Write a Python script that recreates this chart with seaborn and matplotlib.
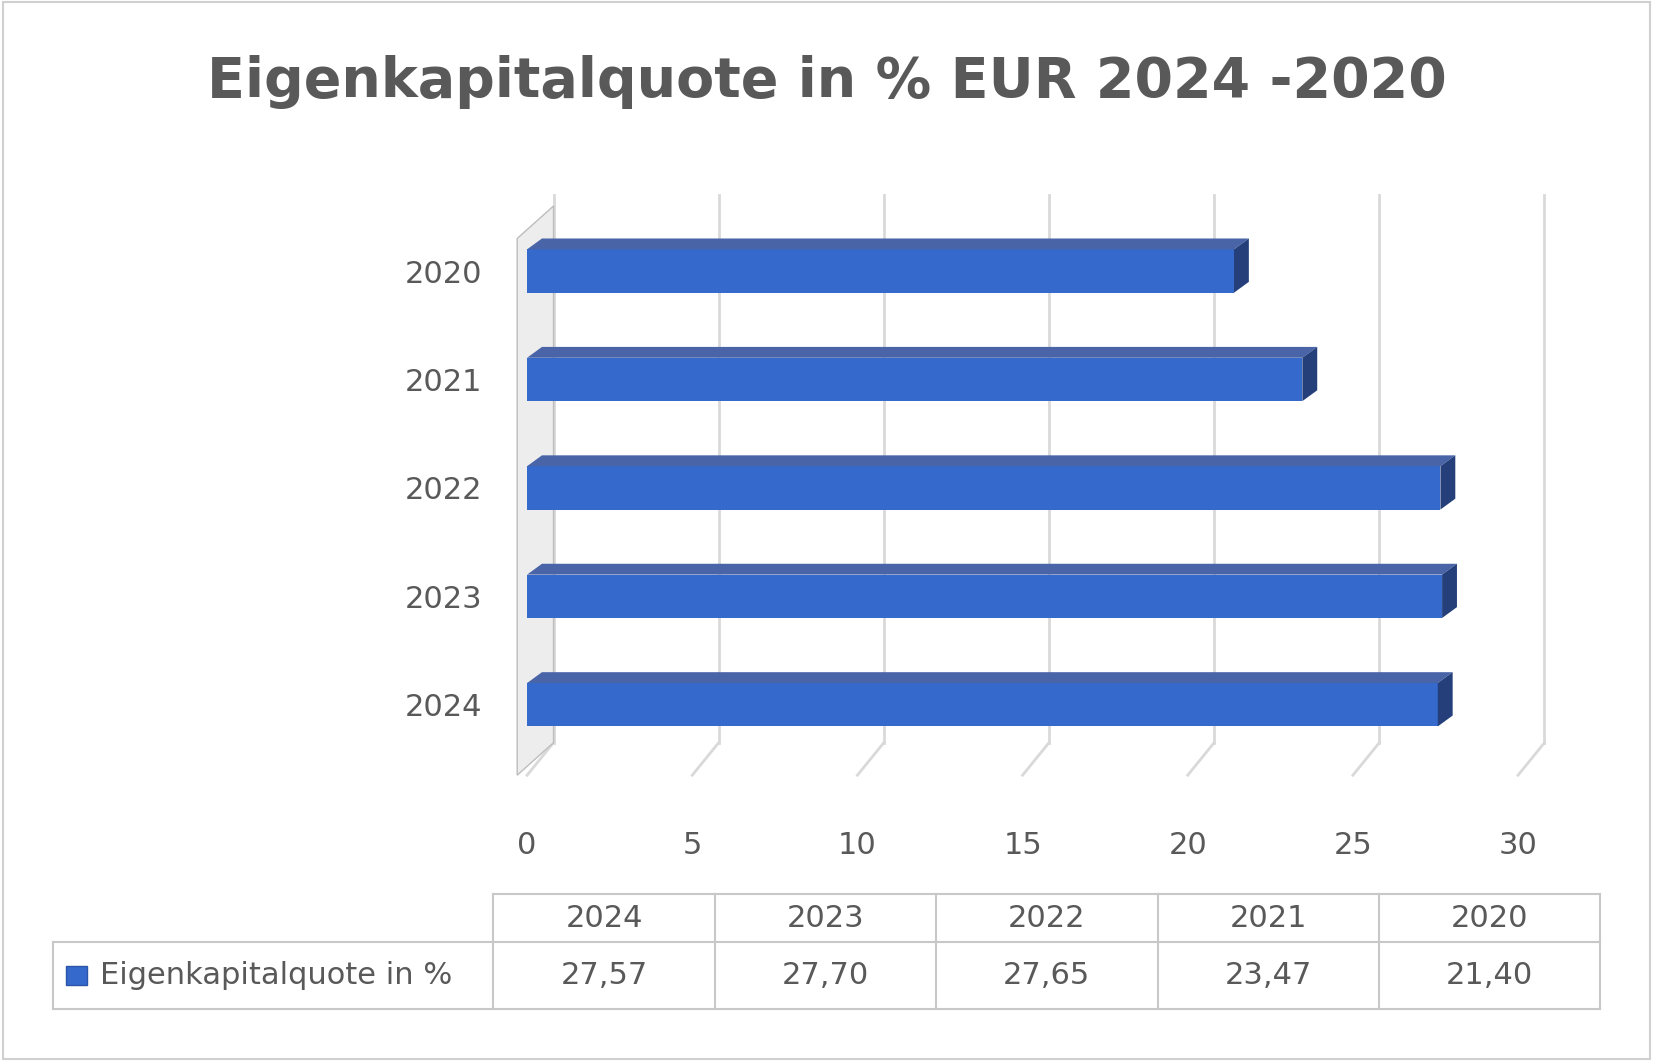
import matplotlib
matplotlib.use("Agg")
import matplotlib.pyplot as plt
import seaborn as sns
import pandas as pd
from matplotlib.patches import Polygon, Rectangle

years = ["2020", "2021", "2022", "2023", "2024"]
values = [21.40, 23.47, 27.65, 27.70, 27.57]
table_years = ["2024", "2023", "2022", "2021", "2020"]
table_values = ["27,57", "27,70", "27,65", "23,47", "21,40"]
series_name = "Eigenkapitalquote in %"
title = "Eigenkapitalquote in % EUR 2024 -2020"

W, H = 1568, 1006
fx = lambda x: x / W
fy = lambda y: 1 - y / H
gray = "#595959"
grid = "#d9d9d9"

fig = plt.figure(figsize=(16.53, 10.61), dpi=100)
fig.patches.append(Rectangle((0.002, 0.002), 0.996, 0.996, transform=fig.transFigure,
                             fill=False, ec="#d0d0d0", lw=1.5))

fig.text(0.5, fy(78), title, ha="center", va="center", fontsize=40, fontweight="bold",
         color=gray, family="DejaVu Sans")

ax = fig.add_axes([fx(500), fy(735), fx(1440) - fx(500), fy(185) - fy(735)])
df = pd.DataFrame({"year": years, "value": values})
sns.barplot(data=df, x="value", y="year", orient="h", color="#3569cc", saturation=1,
            width=0.40, ax=ax, zorder=3, edgecolor="none")
ax.set_xlim(0, 30)
ax.set_ylim(4.65, -0.7)
ax.set_xticks(range(0, 31, 5))
ax.set_xlabel("")
ax.set_ylabel("")
for s in ax.spines.values():
    s.set_visible(False)
ax.tick_params(length=0, labelsize=22, labelcolor=gray)
ax.tick_params(axis="y", pad=32)
ax.tick_params(axis="x", pad=40)

# pseudo-3D grid: back lines plus diagonal floor segments
dx, dy = 0.8, -0.3
for t in range(0, 31, 5):
    ax.plot([t + dx, t + dx], [4.65 + dy, -0.7], color=grid, lw=2, zorder=1, clip_on=False)
    ax.plot([t, t + dx], [4.65, 4.65 + dy], color=grid, lw=2, zorder=1, clip_on=False)
# wall at 0
ax.add_patch(Polygon([[-0.3, 4.65], [0.8, 4.35], [0.8, -0.6], [-0.3, -0.3]],
                     closed=True, fc="#ededed", ec="#bdbdbd", lw=1, zorder=2, clip_on=False))

# bar tops and ends for 3D look
for p in ax.patches[:]:
    if not isinstance(p, Rectangle) or p.get_zorder() != 3:
        continue
    x0, y0 = p.get_x(), p.get_y()
    w, h = p.get_width(), p.get_height()
    d = 0.45
    ax.add_patch(Polygon([[x0, y0], [x0 + w, y0], [x0 + w + d, y0 - 0.1], [x0 + d, y0 - 0.1]],
                         fc="#4a64a8", ec="none", zorder=4))
    ax.add_patch(Polygon([[x0 + w, y0], [x0 + w + d, y0 - 0.1], [x0 + w + d, y0 + h - 0.1],
                          [x0 + w, y0 + h]], fc="#243f7a", ec="none", zorder=4))

# data table
col_x = [468, 678, 888, 1098, 1308, 1518]
lw = 1.5
def hline(y, x0, x1):
    fig.add_artist(plt.Line2D([fx(x0), fx(x1)], [fy(y), fy(y)], color="#c8c8c8", lw=lw))
def vline(x, y0, y1):
    fig.add_artist(plt.Line2D([fx(x), fx(x)], [fy(y0), fy(y1)], color="#c8c8c8", lw=lw))
hline(848, 468, 1518)
hline(893, 50, 1518)
hline(957, 50, 1518)
vline(50, 893, 957)
for x in col_x:
    vline(x, 848, 957)
for i, (yr, v) in enumerate(zip(table_years, table_values)):
    cx = (col_x[i] + col_x[i + 1]) / 2
    fig.text(fx(cx), fy(871), yr, ha="center", va="center", fontsize=22, color=gray)
    fig.text(fx(cx), fy(925), v, ha="center", va="center", fontsize=22, color=gray)
fig.patches.append(Rectangle((fx(63), fy(934)), fx(20), fy(916) - fy(934), transform=fig.transFigure,
                             fc="#3569cc", ec="#2a55a8"))
fig.text(fx(95), fy(925), series_name, ha="left", va="center", fontsize=22, color=gray)

fig.savefig("out.png", dpi=100)
